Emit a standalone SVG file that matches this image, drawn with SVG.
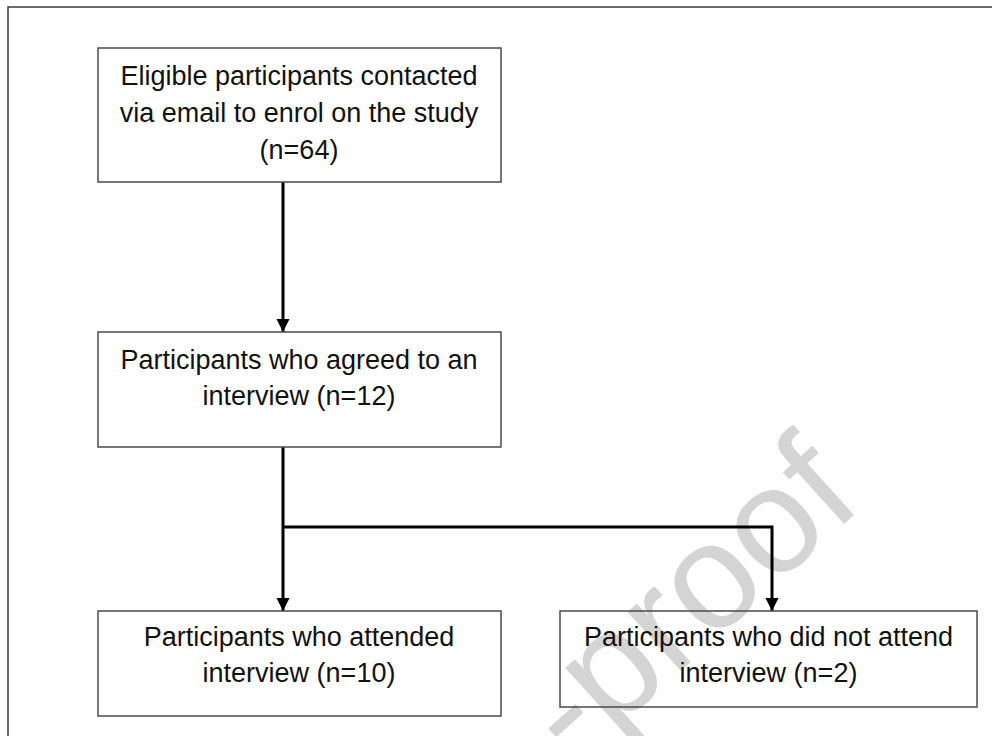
<svg xmlns="http://www.w3.org/2000/svg" width="992" height="736" viewBox="0 0 992 736">
<style>
.box{fill:none;stroke:#4a4a4a;stroke-width:1.5}
.t{font-family:"Liberation Sans",Arial,sans-serif;font-size:27px;fill:#111;text-anchor:middle}
.wm{font-family:"Liberation Sans",Arial,sans-serif;font-size:150px;fill:#d4d4d4}
.c{fill:none;stroke:#000;stroke-width:3}
</style>
<defs>
<marker id="ah" markerUnits="userSpaceOnUse" markerWidth="14" markerHeight="14" refX="13" refY="7" orient="auto">
<path d="M0,0.5 L13,7 L0,13.5 z" fill="#000"/>
</marker>
</defs>
<rect x="0" y="0" width="992" height="736" fill="#fff"/>
<text class="wm" transform="translate(574,767) rotate(-42)">-proof</text>
<rect x="8" y="7" width="1000" height="1000" fill="none" stroke="#3a3a3a" stroke-width="1.5"/>
<g id="connectors">
<line class="c" x1="283" y1="182" x2="283" y2="332" marker-end="url(#ah)"/>
<line class="c" x1="283" y1="447" x2="283" y2="611" marker-end="url(#ah)"/>
<polyline class="c" points="283,527 772,527 772,611" marker-end="url(#ah)"/>
</g>
<g id="n1">
<rect class="box" x="98" y="48" width="403" height="134"/>
<text class="t" x="299" y="85">Eligible participants contacted</text>
<text class="t" x="299" y="122">via email to enrol on the study</text>
<text class="t" x="299" y="159">(n=64)</text>
</g>
<g id="n2">
<rect class="box" x="98" y="332" width="403" height="115"/>
<text class="t" x="299" y="369">Participants who agreed to an</text>
<text class="t" x="299" y="405">interview (n=12)</text>
</g>
<g id="n3">
<rect class="box" x="98" y="611" width="403" height="105"/>
<text class="t" x="299" y="646">Participants who attended</text>
<text class="t" x="299" y="682">interview (n=10)</text>
</g>
<g id="n4">
<rect class="box" x="560" y="611" width="417" height="96"/>
<text class="t" x="768.5" y="646">Participants who did not attend</text>
<text class="t" x="768.5" y="682">interview (n=2)</text>
</g>
</svg>
